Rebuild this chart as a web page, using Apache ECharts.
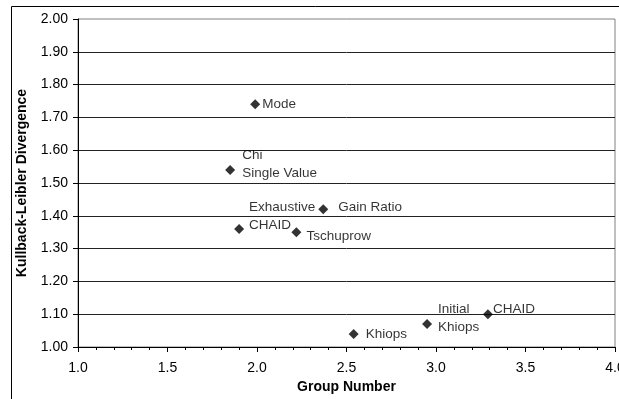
<!DOCTYPE html>
<html>
<head>
<meta charset="utf-8">
<script src="https://cdn.jsdelivr.net/npm/echarts@6/dist/echarts.min.js"></script>
<style>
  html, body { margin: 0; padding: 0; background: #fff; }
  #main { width: 619px; height: 399px; }
</style>
</head>
<body>
<div id="main"></div>
<script>
  // data
  var methodNames = ['Mode', 'Chi\nSingle Value', 'Exhaustive\nCHAID', 'Tschuprow', 'Gain Ratio', 'Khiops', 'Initial\nKhiops', 'CHAID'];
  var groupNumber = [1.99, 1.85, 1.90, 2.22, 2.37, 2.54, 2.95, 3.29];
  var klDivergence = [1.74, 1.54, 1.36, 1.35, 1.42, 1.04, 1.07, 1.10];

  // label placement per point (dx, dy from the marker)
  var labelOffsets = [[2, 0], [7, -6], [5, -13], [5, 4], [10, -2], [7, 0], [6, -6], [0, -5]];

  var points = groupNumber.map(function (x, i) {
    return {
      value: [x, klDivergence[i]],
      name: methodNames[i],
      label: { offset: labelOffsets[i] }
    };
  });

  var chart = echarts.init(document.getElementById('main'));
  chart.setOption({
    animation: false,
    textStyle: { fontFamily: 'Liberation Sans, Arial, sans-serif' },
    graphic: [{
      type: 'rect',
      shape: { x: 11.5, y: 6.5, width: 700, height: 500 },
      style: { fill: 'none', stroke: '#000', lineWidth: 1 },
      silent: true
    }],
    grid: {
      left: 78,
      top: 19,
      right: 4,
      bottom: 52,
      outerBoundsMode: 'none',
      containLabel: false,
      show: true,
      borderColor: '#808080',
      borderWidth: 1
    },
    xAxis: {
      type: 'value',
      min: 1,
      max: 4,
      interval: 0.5,
      name: 'Group Number',
      nameLocation: 'middle',
      nameGap: 31,
      nameTextStyle: { fontWeight: 'bold', fontSize: 14, color: '#000' },
      axisLine: { lineStyle: { color: '#000' } },
      axisTick: { length: 5, lineStyle: { color: '#000' } },
      minorTick: { show: true, splitNumber: 5, length: 3, lineStyle: { color: '#000' } },
      axisLabel: { color: '#000', fontSize: 14, margin: 14, formatter: function (v) { return v.toFixed(1); } },
      splitLine: { show: false }
    },
    yAxis: {
      type: 'value',
      min: 1,
      max: 2,
      interval: 0.1,
      name: 'Kullback-Leibler Divergence',
      nameLocation: 'middle',
      nameGap: 49,
      nameTextStyle: { fontWeight: 'bold', fontSize: 14, color: '#000' },
      axisLine: { show: true, lineStyle: { color: '#000' } },
      axisTick: { show: true, length: 5, lineStyle: { color: '#000' } },
      axisLabel: { color: '#000', fontSize: 14, margin: 10, formatter: function (v) { return v.toFixed(2); } },
      splitLine: { show: true, showMaxLine: false, lineStyle: { color: '#222', width: 1 } }
    },
    series: [{
      type: 'scatter',
      symbol: 'diamond',
      symbolSize: 10,
      itemStyle: { color: '#000' },
      label: {
        show: true,
        position: 'right',
        distance: 0,
        color: '#000',
        fontSize: 13.5,
        lineHeight: 18,
        align: 'left',
        verticalAlign: 'middle',
        formatter: function (p) { return p.name; }
      },
      data: points
    }]
  });
</script>
</body>
</html>
